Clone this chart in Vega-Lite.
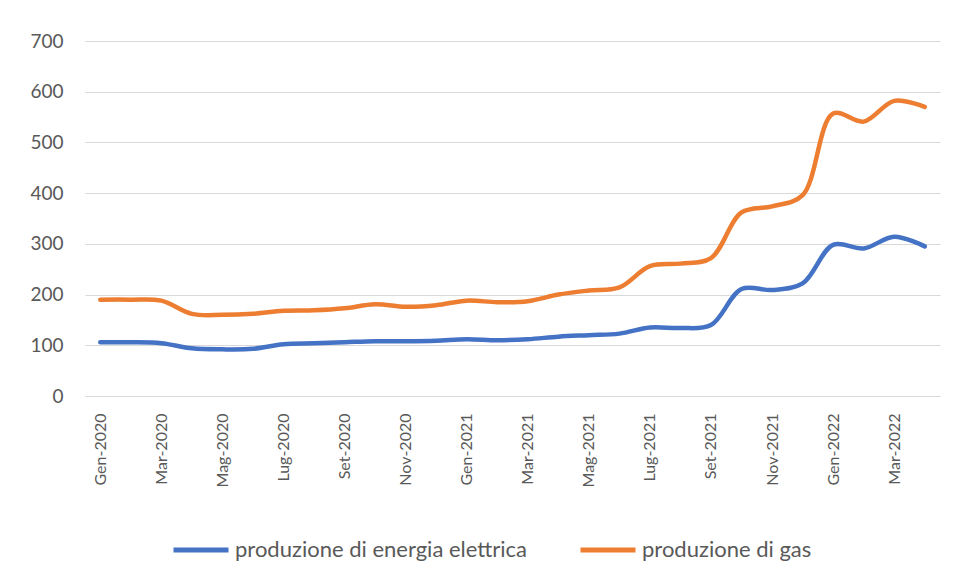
{
  "$schema": "https://vega.github.io/schema/vega-lite/v6.json",
  "autosize": "none",
  "width": 855,
  "height": 355,
  "padding": {"left": 85, "top": 41, "right": 16, "bottom": 187},
  "background": "white",
  "config": {
    "font": "Lato",
    "view": {"stroke": null}
  },
  "data": {
    "values": [
      {"mese": "Gen-2020", "elettrica": 106, "gas": 190},
      {"mese": "Feb-2020", "elettrica": 106, "gas": 190},
      {"mese": "Mar-2020", "elettrica": 104, "gas": 188},
      {"mese": "Apr-2020", "elettrica": 94, "gas": 162},
      {"mese": "Mag-2020", "elettrica": 92, "gas": 160},
      {"mese": "Giu-2020", "elettrica": 93, "gas": 162},
      {"mese": "Lug-2020", "elettrica": 102, "gas": 168},
      {"mese": "Ago-2020", "elettrica": 104, "gas": 169},
      {"mese": "Set-2020", "elettrica": 106, "gas": 173},
      {"mese": "Ott-2020", "elettrica": 108, "gas": 181},
      {"mese": "Nov-2020", "elettrica": 108, "gas": 176},
      {"mese": "Dic-2020", "elettrica": 109, "gas": 179},
      {"mese": "Gen-2021", "elettrica": 112, "gas": 188},
      {"mese": "Feb-2021", "elettrica": 110, "gas": 185},
      {"mese": "Mar-2021", "elettrica": 112, "gas": 187},
      {"mese": "Apr-2021", "elettrica": 117, "gas": 200},
      {"mese": "Mag-2021", "elettrica": 120, "gas": 208},
      {"mese": "Giu-2021", "elettrica": 123, "gas": 214},
      {"mese": "Lug-2021", "elettrica": 135, "gas": 256},
      {"mese": "Ago-2021", "elettrica": 134, "gas": 261},
      {"mese": "Set-2021", "elettrica": 140, "gas": 272},
      {"mese": "Ott-2021", "elettrica": 211, "gas": 362},
      {"mese": "Nov-2021", "elettrica": 209, "gas": 374},
      {"mese": "Dic-2021", "elettrica": 222, "gas": 396},
      {"mese": "Gen-2022", "elettrica": 298, "gas": 557},
      {"mese": "Feb-2022", "elettrica": 291, "gas": 541},
      {"mese": "Mar-2022", "elettrica": 314, "gas": 582},
      {"mese": "Apr-2022", "elettrica": 295, "gas": 570}
    ]
  },
  "transform": [
    {"fold": ["elettrica", "gas"], "as": ["k", "valore"]},
    {"calculate": "datum.k === 'elettrica' ? 'produzione di energia elettrica' : 'produzione di gas'", "as": "serie"}
  ],
  "mark": {"type": "line", "interpolate": "catmull-rom", "strokeWidth": 4.5, "strokeCap": "round"},
  "encoding": {
    "x": {
      "field": "mese",
      "type": "ordinal",
      "sort": null,
      "scale": {"padding": 0.5},
      "axis": {
        "title": null,
        "values": ["Gen-2020", "Mar-2020", "Mag-2020", "Lug-2020", "Set-2020", "Nov-2020", "Gen-2021", "Mar-2021", "Mag-2021", "Lug-2021", "Set-2021", "Nov-2021", "Gen-2022", "Mar-2022"],
        "labelAngle": -90,
        "labelFontSize": 16,
        "labelColor": "#595959",
        "labelPadding": 17,
        "ticks": false,
        "domain": false,
        "grid": false
      }
    },
    "y": {
      "field": "valore",
      "type": "quantitative",
      "scale": {"domain": [0, 700], "nice": false},
      "axis": {
        "title": null,
        "values": [0, 100, 200, 300, 400, 500, 600, 700],
        "labelFontSize": 19,
        "labelColor": "#595959",
        "labelPadding": 22,
        "ticks": false,
        "domain": false,
        "gridColor": "#d9d9d9",
        "gridWidth": 1.2
      }
    },
    "color": {
      "field": "serie",
      "type": "nominal",
      "scale": {"domain": ["produzione di energia elettrica", "produzione di gas"], "range": ["#4472C4", "#ED7D31"]},
      "legend": {
        "title": null,
        "orient": "none",
        "direction": "horizontal",
        "legendX": 86,
        "legendY": 479,
        "symbolType": "stroke",
        "symbolSize": 3025,
        "symbolStrokeWidth": 5,
        "labelFontSize": 22,
        "labelLimit": 0,
        "labelColor": "#595959",
        "labelOffset": 4,
        "columnPadding": 42
      }
    }
  }
}
